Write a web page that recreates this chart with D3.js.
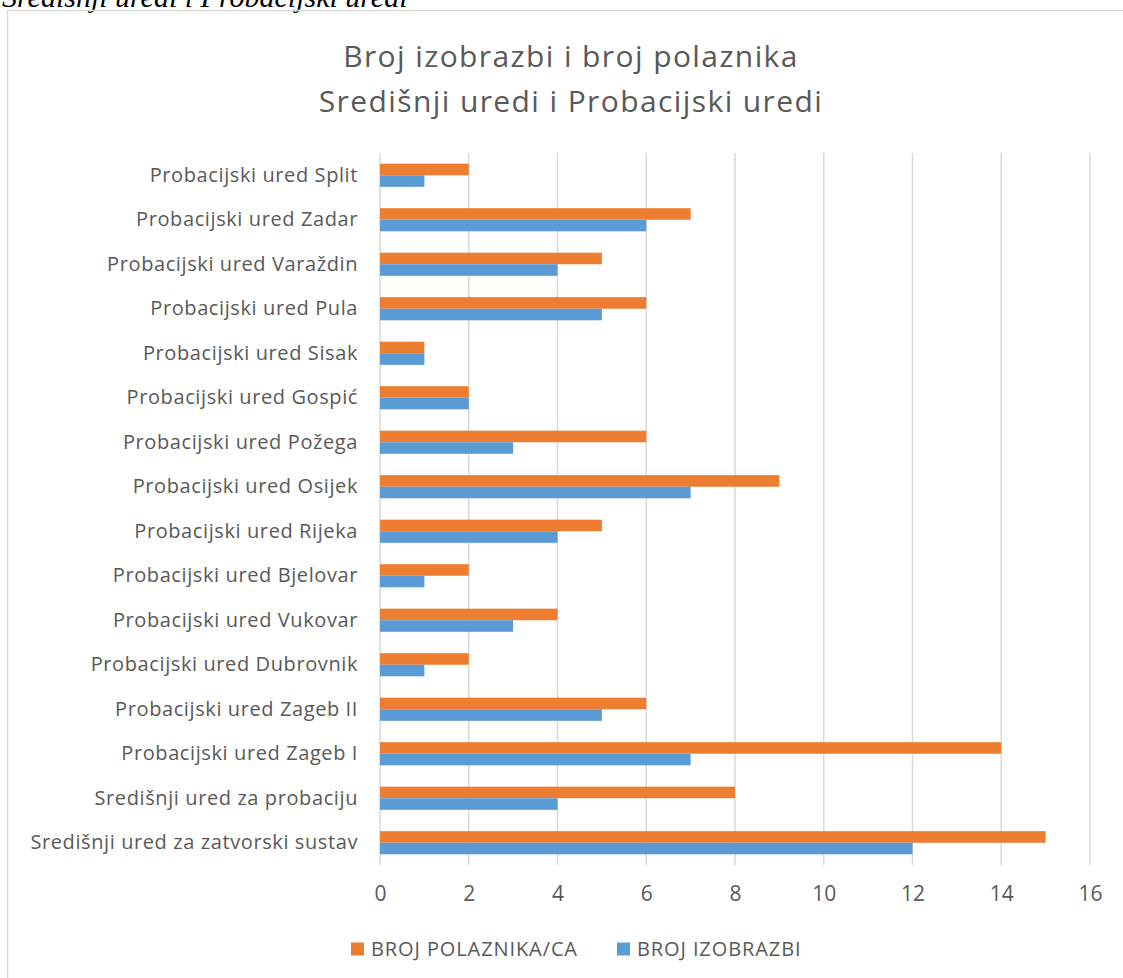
<!DOCTYPE html>
<html>
<head>
<meta charset="utf-8">
<script src="https://cdn.jsdelivr.net/npm/d3@7"></script>
<style>
  body { margin: 0; background: #fff; }
  text { font-family: "Open Sans", "Noto Sans", sans-serif; fill: #595959; }
</style>
</head>
<body>
<div id="chart"></div>
<script>
// data, read top to bottom
var categories = ["Probacijski ured Split", "Probacijski ured Zadar", "Probacijski ured Varaždin",
  "Probacijski ured Pula", "Probacijski ured Sisak", "Probacijski ured Gospić",
  "Probacijski ured Požega", "Probacijski ured Osijek", "Probacijski ured Rijeka",
  "Probacijski ured Bjelovar", "Probacijski ured Vukovar", "Probacijski ured Dubrovnik",
  "Probacijski ured Zageb II", "Probacijski ured Zageb I", "Središnji ured za probaciju",
  "Središnji ured za zatvorski sustav"];
var polaznici = [2, 7, 5, 6, 1, 2, 6, 9, 5, 2, 4, 2, 6, 14, 8, 15];
var izobrazbe = [1, 6, 4, 5, 1, 2, 3, 7, 4, 1, 3, 1, 5, 7, 4, 12];
var xTicks = [0, 2, 4, 6, 8, 10, 12, 14, 16];
var seriesNames = ["BROJ POLAZNIKA/CA", "BROJ IZOBRAZBI"];
var seriesColors = ["#ed7d31", "#5b9bd5"];

var width = 1123, height = 978;
var margin = { top: 153, right: 33, bottom: 113, left: 380 };
var plotW = width - margin.left - margin.right;
var plotH = height - margin.top - margin.bottom;

var svg = d3.select("#chart").append("svg")
  .attr("width", width)
  .attr("height", height);

// caption of the page, cut at the top edge
svg.append("text")
  .attr("x", 2).attr("y", 7)
  .style("font-family", "'Liberation Serif', 'DejaVu Serif', serif")
  .style("font-style", "italic")
  .style("font-size", "30px")
  .style("fill", "#000")
  .text("Središnji uredi i Probacijski uredi");

// chart frame
svg.append("rect")
  .attr("x", 7.5).attr("y", 10.5)
  .attr("width", width + 10).attr("height", height + 10)
  .attr("fill", "none")
  .attr("stroke", "#d9d9d9")
  .attr("stroke-width", 1.5);

svg.append("text")
  .attr("x", 571).attr("y", 67)
  .attr("text-anchor", "middle")
  .style("font-size", "30px")
  .style("letter-spacing", "1.4px")
  .text("Broj izobrazbi i broj polaznika");
svg.append("text")
  .attr("x", 571).attr("y", 112)
  .attr("text-anchor", "middle")
  .style("font-size", "30px")
  .style("letter-spacing", "1.4px")
  .text("Središnji uredi i Probacijski uredi");

var g = svg.append("g")
  .attr("transform", "translate(" + margin.left + "," + margin.top + ")");

var xScale = d3.scaleLinear().domain([0, 16]).range([0, plotW]);
var yScale = d3.scaleBand().domain(categories).range([0, plotH]).paddingInner(0.48).paddingOuter(0.24);
var sub = d3.scaleBand().domain([0, 1]).range([0, yScale.bandwidth()]);

// gridlines
g.selectAll(".grid")
  .data(xTicks)
  .enter()
  .append("line")
  .attr("class", "grid")
  .attr("x1", function(d) { return xScale(d); })
  .attr("x2", function(d) { return xScale(d); })
  .attr("y1", 0)
  .attr("y2", plotH)
  .attr("stroke", "#d9d9d9")
  .attr("stroke-width", 1.5);

var rows = g.selectAll(".row")
  .data(categories)
  .enter()
  .append("g")
  .attr("class", "row")
  .attr("transform", function(d) { return "translate(0," + yScale(d) + ")"; });

rows.append("rect")
  .attr("x", xScale(0))
  .attr("y", sub(0))
  .attr("height", sub.bandwidth())
  .attr("width", function(d, i) { return xScale(polaznici[i]) - xScale(0); })
  .attr("fill", seriesColors[0]);

rows.append("rect")
  .attr("x", xScale(0))
  .attr("y", sub(1))
  .attr("height", sub.bandwidth())
  .attr("width", function(d, i) { return xScale(izobrazbe[i]) - xScale(0); })
  .attr("fill", seriesColors[1]);

// category labels
var yAxis = d3.axisLeft(yScale).tickSize(0).tickPadding(22);
var ya = g.append("g").call(yAxis);
ya.select(".domain").remove();
ya.selectAll("text")
  .style("font-family", "'Open Sans', sans-serif")
  .style("font-size", "20px")
  .style("letter-spacing", "0.6px")
  .style("fill", "#595959");

// x axis labels
var xAxis = d3.axisBottom(xScale).tickValues(xTicks).tickSize(0).tickPadding(21);
var xa = g.append("g").attr("transform", "translate(0," + plotH + ")").call(xAxis);
xa.select(".domain").remove();
xa.selectAll("text")
  .style("font-family", "'Open Sans', sans-serif")
  .style("font-size", "21px")
  .style("fill", "#595959");

// legend
var legendX = [351, 617];
var legend = svg.selectAll(".legend")
  .data(seriesNames)
  .enter()
  .append("g")
  .attr("class", "legend")
  .attr("transform", function(d, i) { return "translate(" + legendX[i] + ",949)"; });
legend.append("rect")
  .attr("x", 0).attr("y", -6.5)
  .attr("width", 13).attr("height", 13)
  .attr("fill", function(d, i) { return seriesColors[i]; });
legend.append("text")
  .attr("x", 20).attr("y", 0)
  .attr("dy", "0.36em")
  .style("font-size", "20px")
  .style("letter-spacing", "0.9px")
  .text(function(d) { return d; });
</script>
</body>
</html>
